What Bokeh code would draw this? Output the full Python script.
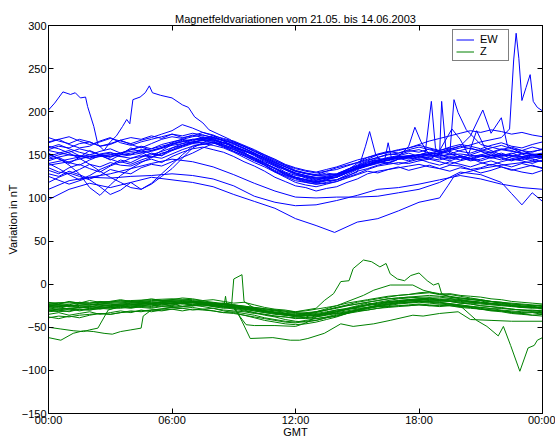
from bokeh.plotting import figure
from bokeh.models import LinearAxis, Range1d, FixedTicker, Legend, LegendItem
from bokeh.embed import file_html
from bokeh.resources import INLINE

TITLE = "Magnetfeldvariationen vom 21.05. bis 14.06.2003"
X_LABEL = "GMT"
Y_LABEL = "Variation in nT"
X_TICKS = [0, 6, 12, 18, 24]
X_TICK_LABELS = ["00:00", "06:00", "12:00", "18:00", "00:00"]
Y_TICKS = [-150, -100, -50, 0, 50, 100, 150, 200, 250, 300]

HOURS = [0, 1, 2, 3, 4, 5, 6, 7, 8, 9, 10, 11, 12, 13, 14, 15, 16, 17, 18, 19, 20, 21, 22, 23, 24]
HALF_HOURS = [0, 0.5, 1, 1.5, 2, 2.5, 3, 3.5, 4, 4.5, 5, 5.5, 6, 6.5, 7, 7.5, 8, 8.5, 9, 9.5, 10, 10.5, 11, 11.5,
              12, 12.5, 13, 13.5, 14, 14.5, 15, 15.5, 16, 16.5, 17, 17.5, 18, 18.5, 19, 19.5, 20, 20.5, 21, 21.5,
              22, 22.5, 23, 23.5, 24]

# ---------------- EW component (nT), half-hourly readings ----------------
EW_B1 = [148, 152, 155, 149, 146, 151, 153, 148, 150, 156, 151, 149, 158, 163, 167, 171, 168, 162, 157, 151, 146, 140, 135, 129, 124,
         121, 117, 120, 121, 127, 133, 137, 141, 140, 145, 147, 149, 146, 144, 148, 147, 143, 145, 149, 147, 144, 146, 150, 147]
EW_B2 = [156, 160, 158, 163, 165, 160, 162, 167, 170, 168, 172, 169, 174, 172, 175, 173, 170, 166, 160, 155, 151, 147, 141, 136, 131,
         128, 126, 129, 127, 132, 140, 144, 147, 151, 150, 154, 156, 152, 155, 158, 154, 152, 156, 153, 157, 155, 151, 154, 156]
EW_B3 = [135, 130, 128, 133, 139, 136, 141, 138, 137, 142, 145, 141, 148, 153, 157, 159, 156, 153, 148, 142, 137, 131, 124, 119, 114,
         112, 108, 111, 113, 118, 122, 128, 131, 133, 135, 137, 139, 136, 134, 138, 137, 133, 135, 139, 136, 132, 135, 138, 134]
EW_B4 = [165, 168, 162, 158, 160, 166, 170, 164, 161, 165, 168, 171, 174, 170, 172, 176, 173, 168, 165, 160, 154, 149, 143, 138, 132,
         129, 127, 131, 135, 138, 141, 147, 150, 153, 156, 158, 161, 158, 155, 159, 162, 160, 157, 161, 164, 160, 158, 162, 165]
EW_B5 = [128, 125, 131, 127, 122, 126, 133, 130, 128, 135, 139, 137, 142, 147, 152, 158, 163, 164, 160, 153, 145, 138, 130, 124, 118,
         115, 113, 116, 119, 123, 127, 131, 129, 133, 136, 132, 135, 138, 134, 131, 135, 133, 129, 132, 136, 133, 130, 128, 132]
EW_B6 = [152, 145, 140, 147, 155, 150, 144, 150, 158, 153, 147, 155, 162, 167, 163, 168, 172, 166, 158, 154, 150, 143, 137, 133, 128,
         123, 120, 124, 126, 131, 135, 141, 146, 143, 149, 152, 148, 145, 151, 154, 149, 146, 150, 153, 148, 151, 155, 150, 147]
EW_B7 = [143, 147, 141, 138, 144, 149, 145, 141, 146, 150, 147, 152, 155, 159, 163, 162, 165, 160, 154, 149, 143, 138, 131, 125, 120,
         118, 116, 117, 119, 124, 128, 133, 137, 139, 141, 140, 143, 145, 142, 139, 143, 146, 141, 138, 142, 145, 143, 140, 144]
EW_B8 = [170, 166, 163, 168, 165, 160, 163, 167, 162, 158, 163, 168, 171, 169, 173, 170, 167, 164, 162, 157, 152, 145, 139, 134, 129,
         126, 124, 125, 128, 133, 137, 142, 144, 147, 149, 146, 150, 153, 148, 151, 147, 150, 154, 149, 152, 148, 151, 147, 150]
EW_B9 = [140, 134, 127, 121, 126, 133, 138, 144, 141, 147, 152, 149, 155, 160, 164, 168, 166, 161, 156, 150, 145, 139, 134, 127, 123,
         119, 118, 121, 124, 129, 134, 137, 140, 144, 146, 143, 147, 150, 146, 143, 147, 144, 148, 151, 146, 143, 147, 145, 142]
EW_B10 = [160, 157, 152, 146, 139, 131, 124, 118, 112, 110, 116, 125, 134, 146, 158, 164, 170, 167, 163, 158, 152, 146, 140, 134, 128,
          125, 123, 124, 126, 131, 136, 139, 142, 144, 147, 149, 146, 148, 151, 147, 144, 148, 150, 146, 149, 152, 148, 146, 149]
EW_B11 = [146, 150, 153, 157, 154, 150, 147, 152, 156, 159, 155, 158, 164, 168, 166, 170, 169, 164, 159, 155, 149, 142, 137, 130, 126,
          124, 121, 123, 127, 133, 138, 143, 147, 150, 152, 155, 153, 157, 154, 151, 155, 158, 154, 152, 156, 159, 155, 153, 157]
EW_B12 = [132, 128, 135, 139, 134, 130, 137, 142, 139, 144, 148, 146, 151, 156, 160, 163, 161, 158, 153, 147, 141, 136, 130, 126, 122,
          118, 116, 118, 121, 125, 131, 134, 138, 141, 139, 142, 145, 141, 138, 142, 139, 136, 140, 143, 139, 136, 140, 137, 135]
EW_B13 = [150, 146, 138, 128, 112, 103, 115, 126, 134, 141, 147, 151, 156, 161, 165, 167, 164, 159, 154, 149, 144, 138, 132, 127, 123,
          120, 118, 121, 125, 130, 136, 139, 143, 146, 148, 145, 148, 151, 147, 145, 149, 146, 143, 147, 150, 146, 144, 148, 146]
EW_B14 = [118, 124, 129, 125, 121, 113, 104, 109, 118, 110, 117, 128, 139, 150, 160, 162, 164, 160, 156, 152, 147, 141, 134, 128, 124,
          121, 119, 122, 124, 129, 134, 138, 142, 141, 145, 147, 144, 147, 150, 146, 148, 145, 149, 147, 144, 148, 146, 143, 147]
EW_B15 = [158, 162, 157, 153, 150, 154, 157, 152, 156, 160, 157, 162, 165, 168, 171, 173, 170, 167, 164, 160, 155, 150, 144, 138, 134,
          131, 129, 131, 133, 137, 141, 145, 150, 153, 155, 158, 162, 166, 169, 172, 175, 178, 176, 179, 177, 174, 176, 173, 171]
EW_B16 = [164, 168, 171, 166, 162, 165, 169, 166, 163, 167, 170, 174, 178, 185, 181, 176, 172, 169, 166, 161, 156, 150, 145, 139, 135,
          132, 130, 133, 136, 140, 144, 147, 151, 154, 152, 156, 159, 156, 153, 157, 160, 157, 155, 158, 161, 157, 155, 159, 156]

EW_L1_T = [0, 1, 2, 3, 4, 5, 6, 7, 8, 9, 10, 11, 12, 13, 13.9, 15, 16, 17, 18, 19, 19.4, 19.7, 20, 21, 22, 23, 24]
EW_L1 = [98, 110, 117, 112, 118, 124, 121, 118, 113, 104, 96, 88, 76, 68, 60, 72, 76, 85, 95, 100, 114, 125, 128, 134, 138, 141, 143]
EW_L2 = [110, 120, 124, 123, 125, 126, 128, 126, 122, 114, 102, 95, 91, 92, 97, 103, 110, 112, 116, 121, 126, 122, 116, 112, 110]
EW_L3_T = [0, 1, 2, 3, 4, 5, 6, 7, 8, 9, 10, 11, 12, 13, 14, 15, 16, 17, 18, 19, 20, 21, 22, 22.5, 23, 23.5, 24]
EW_L3 = [125, 116, 124, 128, 134, 140, 145, 142, 136, 127, 117, 108, 101, 100, 101, 101, 102, 106, 110, 118, 130, 127, 118, 105, 92, 106, 96]

EW_E1_T = [0, 0.3, 0.7, 1.07, 1.3, 1.55, 1.8, 1.9, 2.2, 2.4, 2.7, 3.0, 3.3, 3.6, 3.8, 3.95, 4.1, 4.45, 4.7, 4.9,
           5.05, 5.45, 6.0, 6.5, 6.8, 7.1, 7.5, 7.8, 8.8, 9, 10, 11, 12, 13, 14, 15, 16, 17, 18, 19, 20, 21, 22, 23, 24]
EW_E1 = [202, 210, 223, 220, 222, 216, 217, 206, 183, 162, 155, 165, 172, 183, 191, 186, 214, 217, 222, 230,
         222, 219, 216, 208, 205, 194, 187, 179, 168, 165, 154, 142, 131, 126, 128, 137, 144, 148, 150, 149, 151, 148, 150, 148, 151]
EW_E2_T = [0, 1, 2, 3, 4, 5, 6, 7, 8, 9, 10, 11, 12, 13, 14, 15, 16, 17, 18, 19, 20, 21, 22,
           22.4, 22.6, 22.72, 22.85, 23.0, 23.2, 23.4, 23.55, 23.75, 24]
EW_E2 = [140, 145, 150, 148, 152, 155, 162, 168, 167, 160, 150, 138, 127, 122, 124, 134, 141, 146, 150, 152, 158, 165, 170,
         180, 260, 291, 262, 213, 228, 243, 212, 205, 201]
EW_E3_T = [0, 1, 2, 3, 4, 5, 6, 7, 8, 9, 10, 11, 12, 13, 14, 15, 16, 17, 18,
           18.3, 18.6, 18.8, 19.0, 19.1, 19.3, 19.5, 19.7, 19.9, 20.3, 21, 22, 23, 24]
EW_E3 = [145, 150, 148, 152, 150, 154, 161, 165, 168, 160, 151, 139, 129, 123, 124, 135, 143, 147, 150,
         152, 212, 158, 150, 212, 158, 152, 214, 199, 179, 162, 156, 152, 150]
EW_E4_T = [0, 1, 2, 3, 4, 5, 6, 7, 8, 9, 10, 11, 12, 13, 14, 15,
           15.4, 15.6, 15.9, 16.3, 16.5, 16.7, 17, 18, 19, 20, 20.5, 21.1, 21.5, 22, 22.3, 23, 24]
EW_E4 = [138, 142, 148, 150, 146, 150, 158, 164, 165, 158, 146, 134, 124, 119, 121, 130,
         160, 177, 150, 140, 164, 142, 145, 150, 152, 160, 172, 202, 175, 193, 160, 152, 148]
EW_E5_T = [0, 1, 2, 3, 4, 5, 6, 7, 8, 9, 10, 11, 12, 13, 14, 15, 16, 17,
           17.5, 17.8, 18.1, 18.5, 19, 19.6, 20, 20.4, 20.8, 21.2, 22, 23, 24]
EW_E5 = [155, 150, 146, 150, 154, 157, 163, 168, 170, 163, 152, 141, 131, 126, 127, 135, 143, 148,
         160, 182, 165, 150, 155, 180, 168, 150, 178, 158, 150, 148, 152]

# ---------------- Z component (nT) ----------------
Z_B1 = [-28, -26, -29, -27, -25, -28, -26, -24, -27, -25, -23, -26, -24, -22, -25, -23, -26, -28, -27, -29, -31, -33, -34, -36, -37,
        -38, -35, -33, -31, -29, -26, -24, -22, -20, -19, -18, -17, -16, -18, -17, -19, -20, -21, -22, -24, -25, -27, -26, -28]
Z_B2 = [-21, -23, -20, -22, -19, -21, -20, -18, -20, -19, -17, -19, -18, -16, -17, -19, -18, -20, -22, -21, -24, -27, -29, -30, -32,
        -31, -29, -27, -25, -22, -20, -18, -16, -14, -13, -12, -11, -10, -12, -11, -13, -14, -15, -17, -18, -20, -21, -22, -23]
Z_B3 = [-35, -33, -36, -34, -32, -35, -33, -31, -33, -30, -32, -30, -29, -31, -29, -30, -31, -33, -34, -36, -38, -40, -42, -44, -45,
        -43, -42, -39, -37, -34, -32, -30, -28, -26, -25, -24, -23, -24, -25, -24, -26, -27, -29, -30, -31, -33, -34, -33, -35]
Z_B4 = [-25, -24, -26, -23, -24, -22, -23, -25, -22, -21, -23, -20, -21, -22, -20, -21, -23, -22, -25, -27, -28, -31, -32, -34, -33,
        -35, -32, -30, -27, -25, -23, -21, -19, -17, -16, -15, -14, -13, -14, -15, -16, -17, -18, -20, -21, -23, -24, -25, -24]
Z_B5 = [-39, -37, -38, -36, -35, -34, -35, -33, -32, -31, -30, -31, -29, -28, -30, -29, -31, -33, -32, -34, -36, -39, -41, -43, -44,
        -42, -40, -38, -35, -33, -30, -28, -26, -25, -23, -22, -21, -22, -23, -24, -25, -27, -29, -31, -32, -34, -35, -36, -37]
Z_B6 = [-27, -30, -28, -31, -29, -26, -28, -25, -27, -24, -26, -23, -25, -22, -24, -21, -23, -26, -24, -27, -29, -32, -30, -34, -36,
        -34, -37, -33, -30, -28, -25, -22, -24, -20, -21, -18, -19, -16, -18, -20, -18, -21, -19, -23, -22, -25, -27, -25, -29]
Z_B7_T = [0, 0.5, 1, 1.5, 2, 2.5, 3, 3.5, 4, 4.5, 5, 5.5, 6, 6.5, 7, 7.5, 8, 8.5, 8.55, 8.6, 8.65,
          9, 9.5, 10, 10.5, 11, 11.5, 12, 12.5, 13, 13.5, 14, 14.5, 15, 15.5, 16, 16.5, 17, 17.5, 18, 18.5,
          19, 19.5, 20, 20.5, 21, 21.5, 22, 22.5, 23, 23.5, 24]
Z_B7 = [-31, -30, -32, -29, -30, -28, -29, -27, -28, -26, -27, -25, -26, -24, -25, -23, -24, -22, -22, -14, -22,
        -25, -27, -29, -31, -33, -34, -35, -34, -32, -30, -28, -25, -23, -21, -19, -17, -16, -15, -16, -17,
        -19, -20, -22, -23, -25, -26, -27, -29, -30, -31, -32]
Z_B8 = [-23, -22, -24, -21, -22, -20, -21, -19, -21, -20, -22, -21, -23, -22, -21, -23, -25, -26, -28, -30, -33, -35, -37, -38, -40,
        -39, -37, -35, -32, -29, -27, -24, -22, -21, -19, -18, -17, -18, -19, -20, -22, -23, -25, -26, -28, -29, -30, -31, -30]
Z_B9 = [-32, -31, -29, -30, -28, -29, -27, -28, -26, -27, -28, -26, -27, -28, -27, -29, -28, -30, -31, -32, -34, -35, -37, -38, -39,
        -40, -38, -36, -34, -33, -31, -30, -28, -27, -26, -25, -24, -25, -26, -25, -27, -28, -29, -30, -31, -32, -33, -32, -34]
Z_B10 = [-26, -27, -25, -26, -28, -27, -26, -25, -27, -26, -25, -24, -23, -22, -24, -26, -28, -31, -33, -36, -39, -42, -44, -46, -47,
         -46, -44, -41, -38, -34, -30, -27, -24, -22, -20, -19, -18, -19, -20, -19, -21, -22, -23, -24, -25, -26, -27, -28, -27]
Z_B11 = [-30, -32, -31, -29, -30, -28, -27, -26, -24, -23, -22, -21, -20, -19, -20, -21, -22, -24, -26, -28, -30, -32, -33, -35, -36,
         -35, -33, -30, -27, -24, -21, -19, -17, -15, -13, -12, -10, -9, -11, -12, -14, -16, -18, -20, -22, -24, -25, -27, -28]
Z_B12 = [-24, -26, -25, -27, -26, -24, -25, -23, -24, -22, -23, -21, -22, -20, -21, -22, -24, -25, -27, -29, -31, -33, -35, -36, -37,
         -36, -34, -32, -30, -29, -28, -27, -26, -26, -25, -25, -24, -25, -24, -25, -26, -26, -27, -28, -28, -29, -30, -30, -31]
Z_B13 = [-38, -40, -37, -39, -36, -34, -35, -33, -31, -32, -30, -29, -27, -26, -25, -24, -26, -27, -29, -31, -33, -36, -38, -41, -43,
         -44, -42, -39, -36, -33, -30, -27, -25, -23, -22, -21, -20, -21, -22, -23, -24, -26, -28, -30, -31, -33, -34, -36, -35]

Z_J1_T = [0, 1, 2, 3, 4, 5, 6, 7, 8, 8.9, 9.0, 9.4, 9.5, 10, 11, 12, 13, 14, 15, 16, 17, 18, 19, 20, 21, 22, 23, 24]
Z_J1 = [-24, -23, -22, -21, -20, -19, -19, -20, -22, -23, 6, 11, -20, -28, -33, -36, -36, -32, -26, -21, -17, -15, -15, -18, -21, -24, -26, -27]
Z_J2_T = [0, 0.6, 1.2, 1.7, 2.0, 2.4, 2.9, 3.3, 4, 5, 6, 7, 8, 9, 10, 11, 12, 13, 14, 15, 16, 17, 18, 19, 20, 21, 22, 23, 24]
Z_J2 = [-50, -52, -54, -55, -53, -51, -30, -27, -25, -24, -22, -21, -22, -24, -27, -30, -33, -35, -34, -30, -25, -21, -18, -17, -19, -22, -24, -26, -28]
Z_J3_T = [0, 0.6, 1.2, 1.7, 2.2, 2.7, 3.1, 3.5, 4.0, 4.5, 4.6, 5, 6, 7, 8, 9, 10, 11, 12, 13, 14, 15, 16, 17, 18, 19, 20, 21, 22, 23, 24]
Z_J3 = [-62, -65, -57, -54, -55, -57, -58, -55, -53, -51, -37, -30, -27, -25, -25, -26, -29, -33, -38, -40, -37, -31, -26, -22, -20, -21, -24, -27, -30, -32, -33]
Z_J4_T = [0, 1, 2, 3, 4, 5, 6, 7, 8, 9, 9.4, 9.8, 10.9, 11.75, 12.2, 12.6, 13.4, 14.2, 14.8, 15.8, 16.6, 17.7, 18.2, 19.0, 19.9, 20.5, 21.5, 22.5, 24]
Z_J4 = [-30, -28, -26, -24, -22, -21, -20, -21, -23, -25, -43, -63, -62, -65, -65, -63, -57, -46, -49, -46, -42, -36, -37, -34, -32, -41, -42, -43, -43]
Z_J5_T = [0, 1, 2, 3, 4, 5, 6, 7, 8, 9, 9.6, 10, 11, 12, 12.5, 13, 14, 15, 16, 17, 18, 19, 20, 21, 22, 23, 24]
Z_J5 = [-26, -25, -24, -23, -23, -22, -22, -23, -25, -28, -47, -48, -48, -49, -45, -38, -33, -29, -25, -22, -20, -19, -20, -22, -24, -26, -28]
Z_J6_T = [0, 1, 2, 3, 4, 5, 6, 7, 8, 9, 10, 11, 12, 13, 13.4, 13.85, 14.2, 14.6, 14.8, 15.3, 15.7, 16.1, 16.4, 16.6, 16.95,
          17.3, 17.6, 18.0, 18.4, 18.7, 18.95, 19.1, 19.5, 20, 21, 22, 23, 24]
Z_J6 = [-22, -21, -22, -20, -19, -18, -17, -18, -21, -24, -27, -30, -32, -28, -19, -11, 3, 4, 18, 28, 26, 20, 24, 12, 6,
        4, 10, 13, 4, -1, 1, -11, -15, -17, -19, -21, -23, -25]
Z_J7_T = [0, 1, 2, 3, 4, 5, 6, 7, 8, 9, 10, 11, 12, 13, 14, 15.3, 15.8, 16.6, 17.7, 18.2, 19, 20, 21, 22, 23, 24]
Z_J7 = [-24, -25, -24, -22, -21, -20, -18, -19, -22, -25, -28, -31, -34, -32, -25, -13, -7, -1, -1, -7, -12, -16, -19, -22, -24, -26]
Z_J8_T = [0, 1, 2, 3, 4, 5, 6, 7, 8, 9, 10, 11, 12, 13, 14, 15, 16, 17, 18, 19, 20,
          20.8, 21.3, 21.85, 22.1, 22.45, 22.9, 23.3, 23.6, 23.75, 24]
Z_J8 = [-29, -28, -27, -25, -24, -23, -22, -22, -24, -27, -30, -34, -37, -36, -32, -27, -23, -20, -19, -21, -25,
        -42, -49, -60, -49, -71, -101, -74, -71, -65, -62]

EW_SERIES = [(HALF_HOURS, EW_B1), (HALF_HOURS, EW_B2), (HALF_HOURS, EW_B3), (HALF_HOURS, EW_B4),
             (HALF_HOURS, EW_B5), (HALF_HOURS, EW_B6), (HALF_HOURS, EW_B7), (HALF_HOURS, EW_B8),
             (HALF_HOURS, EW_B9), (HALF_HOURS, EW_B10), (HALF_HOURS, EW_B11), (HALF_HOURS, EW_B12),
             (HALF_HOURS, EW_B13), (HALF_HOURS, EW_B14), (HALF_HOURS, EW_B15), (HALF_HOURS, EW_B16),
             (EW_L1_T, EW_L1), (HOURS, EW_L2), (EW_L3_T, EW_L3), (EW_E1_T, EW_E1), (EW_E2_T, EW_E2),
             (EW_E3_T, EW_E3), (EW_E4_T, EW_E4), (EW_E5_T, EW_E5)]
Z_SERIES = [(HALF_HOURS, Z_B1), (HALF_HOURS, Z_B2), (HALF_HOURS, Z_B3), (HALF_HOURS, Z_B4), (HALF_HOURS, Z_B5),
            (HALF_HOURS, Z_B6), (Z_B7_T, Z_B7), (HALF_HOURS, Z_B8), (HALF_HOURS, Z_B9), (HALF_HOURS, Z_B10),
            (HALF_HOURS, Z_B11), (HALF_HOURS, Z_B12), (HALF_HOURS, Z_B13),
            (Z_J1_T, Z_J1), (Z_J2_T, Z_J2), (Z_J3_T, Z_J3), (Z_J4_T, Z_J4), (Z_J5_T, Z_J5), (Z_J6_T, Z_J6),
            (Z_J7_T, Z_J7), (Z_J8_T, Z_J8)]

EW_COLOR = "#0000ff"
Z_COLOR = "#008000"
FONT = "Liberation Sans"

p = figure(width=555, height=440, output_backend="svg", toolbar_location=None,
           x_range=Range1d(0, 24), y_range=Range1d(-150, 300),
           min_border_left=48, min_border_right=13, min_border_top=25, min_border_bottom=26,
           background_fill_color="white", border_fill_color="white")

p.title.text = TITLE
p.title.align = "center"
p.title.text_font = FONT
p.title.text_font_size = "11px"
p.title.text_font_style = "normal"
p.title.text_color = "black"
p.title.standoff = 2

p.xgrid.visible = False
p.ygrid.visible = False
p.outline_line_color = "black"
p.outline_line_width = 1

ew_r = [p.line(t, v, line_color=EW_COLOR, line_width=1) for t, v in EW_SERIES]
z_r = [p.line(t, v, line_color=Z_COLOR, line_width=1) for t, v in Z_SERIES]


def style_axis(ax, ticks):
    ax.ticker = FixedTicker(ticks=ticks)
    ax.major_tick_in = 5
    ax.major_tick_out = 0
    ax.minor_tick_in = 0
    ax.minor_tick_out = 0
    ax.axis_line_color = "black"
    ax.major_tick_line_color = "black"
    ax.major_label_text_font = FONT
    ax.major_label_text_font_size = "11px"
    ax.major_label_text_color = "black"
    ax.axis_label_text_font = FONT
    ax.axis_label_text_font_size = "11px"
    ax.axis_label_text_font_style = "normal"
    ax.axis_label_text_color = "black"


# x-axis: the axis title "GMT" sits as a second line under the centre (12:00) tick label
xa = p.xaxis[0]
style_axis(xa, X_TICKS)
x_labels = {t: s for t, s in zip(X_TICKS, X_TICK_LABELS)}
x_labels[12] = X_TICK_LABELS[2] + "\n" + X_LABEL
xa.major_label_overrides = x_labels
xa.major_label_text_line_height = 1.0
xa.major_label_standoff = 0

ya = p.yaxis[0]
style_axis(ya, Y_TICKS)
ya.axis_label = Y_LABEL
ya.major_label_standoff = 2
ya.axis_label_standoff = 0

top = LinearAxis()
style_axis(top, X_TICKS)
top.major_label_overrides = {t: "" for t in X_TICKS}
top.major_label_standoff = 5
p.add_layout(top, "above")

right = LinearAxis()
style_axis(right, Y_TICKS)
right.major_label_overrides = {t: "" for t in Y_TICKS}
right.major_label_standoff = 0
p.add_layout(right, "right")

legend = Legend(items=[LegendItem(label="EW", renderers=[ew_r[0]]),
                       LegendItem(label="Z", renderers=[z_r[0]])],
                location=(404, 352), orientation="vertical",
                border_line_color="black", border_line_width=1,
                background_fill_color="white", background_fill_alpha=1,
                label_text_font=FONT, label_text_font_size="11px", label_text_color="black",
                glyph_width=18, glyph_height=11, label_height=11, label_width=25,
                label_standoff=6, spacing=0, padding=3, margin=0)
p.add_layout(legend)

open("out.html", "w").write(file_html(p, INLINE))
